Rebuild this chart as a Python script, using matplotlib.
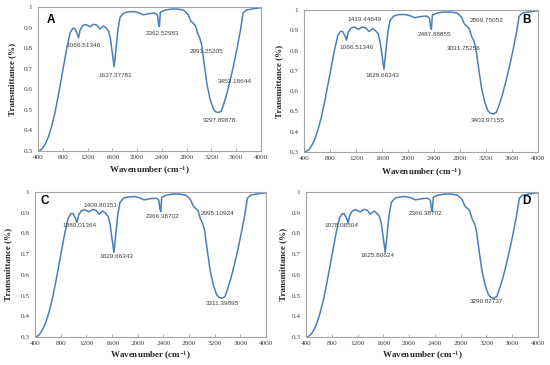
import matplotlib
matplotlib.use("Agg")
import matplotlib.pyplot as plt

plt.rcParams["mathtext.fontset"] = "custom"
plt.rcParams["mathtext.rm"] = "Liberation Serif:bold"
plt.rcParams["mathtext.it"] = "Liberation Serif:bold"
plt.rcParams["mathtext.bf"] = "Liberation Serif:bold"

# ---------------- data ----------------
wavenumber = [400, 430, 470, 520, 570, 620, 670, 720, 770, 820, 870, 920, 960, 995,
              1030, 1055, 1080, 1120, 1170,
              1240, 1300, 1350, 1400, 1455, 1500, 1540, 1570, 1600, 1630,
              1660, 1690, 1725, 1780, 1850, 1950, 2030, 2100, 2200, 2290, 2330,
              2345, 2360, 2375, 2450, 2550, 2650, 2750, 2820, 2870, 2900, 2940,
              2980, 3010, 3040, 3080, 3130, 3180, 3230, 3270, 3320, 3360, 3400,
              3450, 3500, 3560, 3620, 3670, 3710, 3760, 3850, 3950, 4000]

trans_A = [0.300, 0.303, 0.311, 0.335, 0.370, 0.420, 0.480, 0.558, 0.640, 0.725,
           0.808, 0.875, 0.896, 0.895, 0.872, 0.850, 0.888, 0.909, 0.915,
           0.904, 0.916, 0.912, 0.893, 0.908, 0.898, 0.882, 0.845, 0.775, 0.710,
           0.800, 0.890, 0.950, 0.970, 0.976, 0.978, 0.972, 0.962, 0.968, 0.970,
           0.960, 0.920, 0.905, 0.975, 0.985, 0.990, 0.990, 0.985, 0.965, 0.930,
           0.922, 0.910, 0.870, 0.850, 0.820, 0.730, 0.620, 0.550, 0.505, 0.490,
           0.487, 0.495, 0.530, 0.580, 0.640, 0.720, 0.810, 0.890, 0.970, 0.985,
           0.990, 0.995, 0.996]

trans_B = [0.300, 0.302, 0.310, 0.332, 0.366, 0.415, 0.475, 0.552, 0.635, 0.720,
           0.805, 0.873, 0.895, 0.894, 0.873, 0.852, 0.890, 0.910, 0.916,
           0.905, 0.916, 0.912, 0.894, 0.908, 0.898, 0.883, 0.846, 0.776, 0.708,
           0.800, 0.890, 0.950, 0.970, 0.977, 0.978, 0.972, 0.962, 0.968, 0.970,
           0.960, 0.920, 0.905, 0.975, 0.985, 0.990, 0.990, 0.986, 0.966, 0.930,
           0.922, 0.910, 0.868, 0.850, 0.818, 0.728, 0.618, 0.548, 0.503, 0.490,
           0.488, 0.496, 0.530, 0.580, 0.640, 0.720, 0.810, 0.890, 0.970, 0.985,
           0.990, 0.995, 0.996]

trans_C = [0.300, 0.303, 0.312, 0.337, 0.372, 0.422, 0.483, 0.560, 0.643, 0.728,
           0.810, 0.876, 0.896, 0.895, 0.873, 0.853, 0.889, 0.909, 0.915,
           0.904, 0.916, 0.912, 0.893, 0.908, 0.898, 0.882, 0.845, 0.775, 0.708,
           0.800, 0.890, 0.950, 0.970, 0.976, 0.978, 0.972, 0.962, 0.968, 0.970,
           0.960, 0.920, 0.905, 0.975, 0.985, 0.990, 0.990, 0.985, 0.965, 0.930,
           0.922, 0.910, 0.868, 0.850, 0.820, 0.730, 0.620, 0.550, 0.505, 0.490,
           0.488, 0.495, 0.530, 0.580, 0.640, 0.720, 0.810, 0.890, 0.970, 0.985,
           0.990, 0.995, 0.996]

trans_D = [0.300, 0.302, 0.310, 0.333, 0.368, 0.418, 0.478, 0.555, 0.638, 0.723,
           0.806, 0.874, 0.895, 0.894, 0.872, 0.851, 0.888, 0.909, 0.915,
           0.904, 0.916, 0.912, 0.893, 0.908, 0.898, 0.882, 0.845, 0.775, 0.708,
           0.800, 0.890, 0.950, 0.970, 0.976, 0.978, 0.972, 0.962, 0.968, 0.970,
           0.960, 0.920, 0.905, 0.975, 0.985, 0.990, 0.990, 0.985, 0.965, 0.930,
           0.922, 0.910, 0.868, 0.850, 0.820, 0.730, 0.620, 0.550, 0.505, 0.490,
           0.487, 0.495, 0.530, 0.580, 0.640, 0.720, 0.810, 0.890, 0.970, 0.985,
           0.990, 0.995, 0.996]

panel_letters = ["A", "B", "C", "D"]

labels_A = ["1066.51346", "1637.37781", "2362.52983", "2991.25205", "3452.18644", "3297.89878"]
label_pos_A = [(1143, 0.815), (1654, 0.665), (2413, 0.872), (3122, 0.783), (3580, 0.640), (3327, 0.450)]

labels_B = ["1419.44649", "1066.51346", "1629.66343", "2487.88855", "2869.75052", "3031.75256", "3403.97155"]
label_pos_B = [(1328, 0.951), (1210, 0.816), (1610, 0.675), (2404, 0.877), (3210, 0.947), (2851, 0.811), (3220, 0.453)]

labels_C = ["1409.80351", "1080.01364", "1629.66343", "2366.38702", "2995.10924", "3311.39895"]
label_pos_C = [(1413, 0.936), (1101, 0.837), (1662, 0.689), (2389, 0.883), (3240, 0.895), (3324, 0.464)]

labels_D = ["1078.08504", "1625.80624", "2366.38702", "3299.82737"]
label_pos_D = [(954, 0.837), (1507, 0.694), (2258, 0.895), (3204, 0.472)]

letter_pos = [(613, 0.937), (3825, 0.951), (556, 0.955), (3825, 0.955)]

x_ticks = [400, 800, 1200, 1600, 2000, 2400, 2800, 3200, 3600, 4000]
y_ticks = [0.3, 0.4, 0.5, 0.6, 0.7, 0.8, 0.9, 1.0]
y_tick_labels = ["0.3", "0.4", "0.5", "0.6", "0.7", "0.8", "0.9", "1"]

# ---------------- layout ----------------
W, H = 550, 365
boxes_px = [(38, 7, 261, 151), (304, 10, 538, 152), (35, 192, 266, 337), (306, 192, 538, 337)]
ylabel_x_px = [12, 279, 8, 283]
xlabel_y_px = [171, 173, 356, 356]

series = [trans_A, trans_B, trans_C, trans_D]
all_labels = [labels_A, labels_B, labels_C, labels_D]
all_pos = [label_pos_A, label_pos_B, label_pos_C, label_pos_D]

line_color = "#4A7EBB"
frame_color = "#A6A6A6"

fig = plt.figure(figsize=(W / 100, H / 100), dpi=100)

for i in range(4):
    x0, y0, x1, y1 = boxes_px[i]
    ax = fig.add_axes([x0 / W, 1 - y1 / H, (x1 - x0) / W, (y1 - y0) / H])
    ax.plot(wavenumber, series[i], color=line_color, lw=1.1, solid_joinstyle="round")
    ax.set_xlim(400, 4000)
    ax.set_ylim(0.3, 1.0)
    ax.set_xticks(x_ticks)
    ax.set_yticks(y_ticks)
    ax.set_yticklabels(y_tick_labels)
    for s in ax.spines.values():
        s.set_color(frame_color)
        s.set_linewidth(0.8)
    ax.tick_params(axis="x", length=2, width=0.6, color=frame_color, direction="in",
                   pad=3, labelsize=5.2, labelcolor="#404040")
    ax.tick_params(axis="y", length=0, pad=4, labelsize=5.2, labelcolor="#404040")
    for lab in ax.get_xticklabels() + ax.get_yticklabels():
        lab.set_family("Liberation Serif")
    # axis titles
    fig.text(ylabel_x_px[i] / W, 1 - ((y0 + y1) / 2) / H, "Transmittance (%)",
             rotation=90, ha="center", va="center", family="Liberation Serif",
             fontweight="bold", fontsize=6.5, color="#262626")
    fig.text(((x0 + x1) / 2) / W, 1 - xlabel_y_px[i] / H, "Wavenumber (cm$^{-1}$)",
             ha="center", va="center", family="Liberation Serif",
             fontweight="bold", fontsize=6.5, color="#262626")
    # peak labels
    for txt, (px, py) in zip(all_labels[i], all_pos[i]):
        ax.text(px, py, txt, ha="center", va="center", fontsize=4.6,
                family="Liberation Sans", color="#404040")
    lx, ly = letter_pos[i]
    ax.text(lx, ly, panel_letters[i], ha="center", va="center", fontsize=8.5,
            fontweight="bold", family="Liberation Sans", color="black")

fig.savefig("out.png", dpi=100)
